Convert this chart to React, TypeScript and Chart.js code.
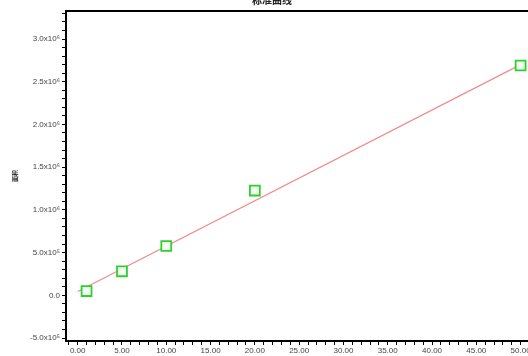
import React, { useEffect, useRef } from "react";
import { Chart, registerables } from "chart.js";

Chart.register(...registerables);

const concentrations = [1, 5, 10, 20, 50];
const peakAreas = [50000, 281000, 577000, 1226000, 2690000];
const fitX = [0, 50];
const fitY = [45000, 2700000];
const chartTitle = "标准曲线";
const yTitle = "面积";
const yMinorStep = 100000;
const yMajorEvery = 5;
const xMinorStep = 1;
const xMajorEvery = 5;
const xLastTick = 55;

const SUP: Record<string, string> = { "0": "⁰", "1": "¹", "2": "²", "3": "³", "4": "⁴", "5": "⁵", "6": "⁶", "7": "⁷", "8": "⁸", "9": "⁹", "-": "⁻" };

function fmtY(v: number): string {
  if (Math.abs(v) < 1) return "0.0";
  const e = Math.floor(Math.log10(Math.abs(v)) + 1e-9);
  const m = v / Math.pow(10, e);
  return m.toFixed(1) + "x10" + String(e).split("").map((c) => SUP[c] || c).join("");
}

const framePlugin = {
  id: "frameTitle",
  afterDraw(chart: any) {
    const { ctx, chartArea } = chart;
    ctx.save();
    ctx.strokeStyle = "#000";
    ctx.lineWidth = 2;
    ctx.beginPath();
    ctx.moveTo(chartArea.left - 1, chartArea.top);
    ctx.lineTo(chartArea.right + 10, chartArea.top);
    ctx.stroke();
    ctx.fillStyle = "#222";
    ctx.font = "bold 10px 'Noto Sans CJK SC'";
    ctx.textAlign = "center";
    ctx.textBaseline = "middle";
    ctx.fillText(chartTitle, 272, 0);
    ctx.restore();
  },
};

export default function App() {
  const ref = useRef<HTMLCanvasElement | null>(null);
  useEffect(() => {
    if (!ref.current) return;
    const chart = new Chart(ref.current, {
      type: "scatter",
      data: {
        datasets: [
          {
            type: "line",
            data: fitX.map((x, i) => ({ x, y: fitY[i] })),
            borderColor: "rgb(238,140,140)",
            borderWidth: 1.2,
            pointRadius: 0,
            fill: false,
            order: 2,
          } as any,
          {
            data: concentrations.map((x, i) => ({ x, y: peakAreas[i] })),
            pointStyle: "rect",
            pointRadius: 7,
            pointBorderWidth: 1.8,
            pointBorderColor: "rgb(50,205,50)",
            pointBackgroundColor: "rgb(240,255,240)",
            order: 1,
          },
        ],
      },
      plugins: [framePlugin],
      options: {
        responsive: false,
        animation: false,
        layout: { padding: { top: 11, left: 0, right: 0, bottom: 0 } },
        plugins: { legend: { display: false }, tooltip: { enabled: false } },
        scales: {
          x: {
            type: "linear",
            min: -1.32,
            max: 57.97,
            afterFit: (s: any) => {
              s.height = 15;
            },
            afterBuildTicks: (s: any) => {
              const out: any[] = [];
              const k0 = Math.ceil(s.min / xMinorStep);
              const k1 = Math.min(Math.floor(s.max / xMinorStep), xLastTick);
              for (let k = k0; k <= k1; k++) out.push({ value: k * xMinorStep });
              s.ticks = out;
            },
            border: { display: true, color: "#000", width: 2 },
            grid: { drawOnChartArea: false, drawTicks: true, tickLength: 4, tickColor: "#000", tickWidth: 1 },
            ticks: {
              autoSkip: false,
              maxRotation: 0,
              padding: 1,
              color: "#444",
              font: { family: "'Liberation Sans', Arial, sans-serif", size: 8 },
              callback: (v: any) => {
                const k = Math.round(Number(v) / xMinorStep);
                return k % xMajorEvery === 0 && k >= 0 ? (k * xMinorStep).toFixed(2) : "";
              },
            },
          },
          y: {
            type: "linear",
            min: -535000,
            max: 3328000,
            afterFit: (s: any) => {
              s.width = 66;
            },
            afterBuildTicks: (s: any) => {
              const out: any[] = [];
              const k0 = Math.ceil(s.min / yMinorStep);
              const k1 = Math.floor(s.max / yMinorStep);
              for (let k = k0; k <= k1; k++) out.push({ value: k * yMinorStep });
              s.ticks = out;
            },
            border: { display: true, color: "#000", width: 2 },
            grid: { drawOnChartArea: false, drawTicks: true, tickLength: 4, tickColor: "#000", tickWidth: 1 },
            title: {
              display: true,
              text: yTitle,
              color: "#222",
              font: { family: "'Noto Sans CJK SC'", size: 6, weight: "bold" },
              padding: { top: 11, bottom: 0 },
            },
            ticks: {
              autoSkip: false,
              padding: 2,
              color: "#444",
              font: { family: "'Liberation Sans', Arial, sans-serif", size: 8 },
              callback: (v: any) => {
                const k = Math.round(Number(v) / yMinorStep);
                return k % yMajorEvery === 0 ? fmtY(k * yMinorStep) : "";
              },
            },
          },
        },
      } as any,
    });
    return () => chart.destroy();
  }, []);
  return (
    <div style={{ position: "fixed", left: 0, top: 0, width: 528, height: 356, overflow: "hidden", background: "#fff" }}>
      <canvas ref={ref} width={600} height={356} style={{ display: "block" }} />
    </div>
  );
}
